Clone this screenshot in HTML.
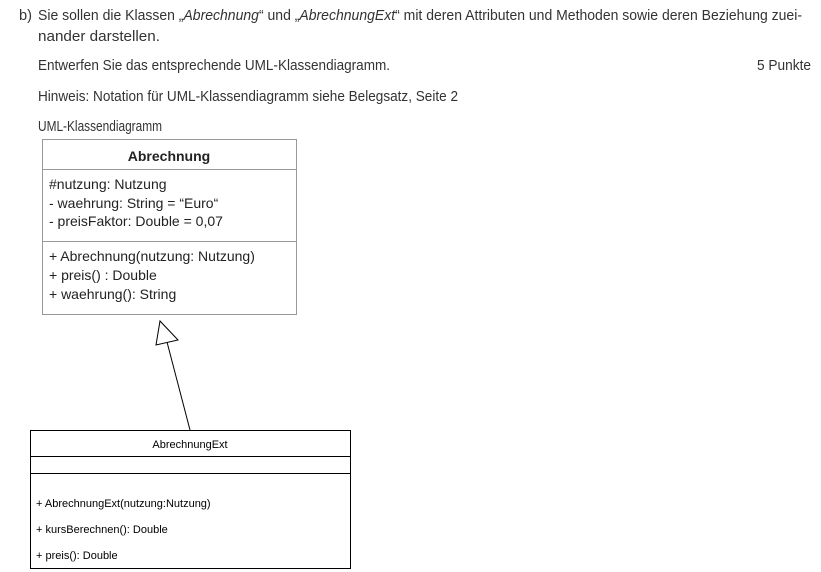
<!DOCTYPE html>
<html><head><meta charset="utf-8"><style>
html,body{margin:0;padding:0;background:#fff;}
svg{display:block;}
</style></head><body>
<svg width="821" height="572" viewBox="0 0 821 572" xmlns="http://www.w3.org/2000/svg">
<g font-family="Liberation Sans, sans-serif" font-size="15" fill="#333">
<text x="19" y="20" textLength="13" lengthAdjust="spacingAndGlyphs">b)</text>
<text x="38" y="20" textLength="764" lengthAdjust="spacingAndGlyphs">Sie sollen die Klassen „<tspan font-style="italic">Abrechnung</tspan>“ und „<tspan font-style="italic">AbrechnungExt</tspan>“ mit deren Attributen und Methoden sowie deren Beziehung zuei-</text>
<text x="38" y="41" textLength="122" lengthAdjust="spacingAndGlyphs">nander darstellen.</text>
<text x="38" y="70" textLength="352" lengthAdjust="spacingAndGlyphs">Entwerfen Sie das entsprechende UML-Klassendiagramm.</text>
<text x="757" y="70" textLength="54" lengthAdjust="spacingAndGlyphs">5 Punkte</text>
<text x="38" y="101" textLength="420" lengthAdjust="spacingAndGlyphs">Hinweis: Notation für UML-Klassendiagramm siehe Belegsatz, Seite 2</text>
<text x="38" y="131" textLength="124" lengthAdjust="spacingAndGlyphs">UML-Klassendiagramm</text>
</g>
<!-- Abrechnung -->
<rect x="42.5" y="139.5" width="254" height="175" fill="#fff" stroke="#999" stroke-width="1"/>
<line x1="42" y1="169.5" x2="296" y2="169.5" stroke="#999"/>
<line x1="42" y1="241.5" x2="296" y2="241.5" stroke="#999"/>
<g font-family="Liberation Sans, sans-serif" font-size="14" fill="#222">
<text x="169" y="161" text-anchor="middle" font-weight="bold">Abrechnung</text>
<text x="49" y="189">#nutzung: Nutzung</text>
<text x="49" y="208">- waehrung: String = “Euro“</text>
<text x="49" y="226">- preisFaktor: Double = 0,07</text>
<text x="49" y="261">+ Abrechnung(nutzung: Nutzung)</text>
<text x="49" y="280">+ preis() : Double</text>
<text x="49" y="299">+ waehrung(): String</text>
</g>
<!-- inheritance -->
<line x1="167" y1="342" x2="190" y2="430" stroke="#000" stroke-width="1"/>
<polygon points="160,321 156,345 178,340" fill="#fff" stroke="#000" stroke-width="1"/>
<!-- AbrechnungExt -->
<rect x="30.5" y="430.5" width="320" height="138" fill="#fff" stroke="#000" stroke-width="1"/>
<line x1="30" y1="456.5" x2="350" y2="456.5" stroke="#000"/>
<line x1="30" y1="473.5" x2="350" y2="473.5" stroke="#000"/>
<g font-family="Liberation Sans, sans-serif" font-size="11" fill="#000">
<text x="190" y="448" text-anchor="middle">AbrechnungExt</text>
<text x="36" y="507">+ AbrechnungExt(nutzung:Nutzung)</text>
<text x="36" y="533">+ kursBerechnen(): Double</text>
<text x="36" y="559">+ preis(): Double</text>
</g>
</svg>
</body></html>
